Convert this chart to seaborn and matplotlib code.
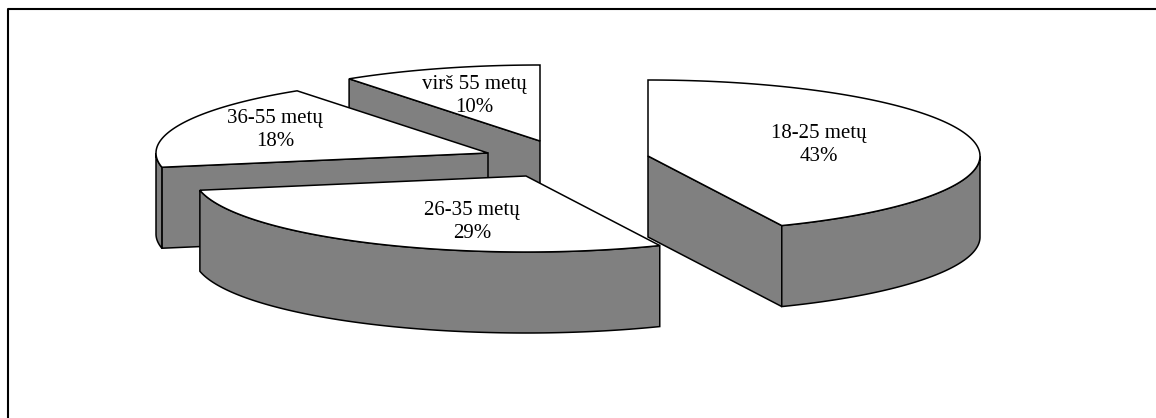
import numpy as np
import pandas as pd
import seaborn as sns
import matplotlib.pyplot as plt
from matplotlib.patches import Polygon

# duomenys
labels = ["18-25 metų", "26-35 metų", "36-55 metų", "virš 55 metų"]
shares = [43.4, 28.6, 18.25, 9.75]

# kiekvienos dalies centras (pikseliais)
center_x = [648, 526, 488, 540]
center_y = [156, 176, 153, 141]
label_x = [819, 472, 275, 474]
label_y = [145, 222, 130, 96]
draw_order = [3, 2, 0, 1]

RX, RY, DEPTH = 332, 76, 81

sns.set_theme(style="white")
plt.rcParams["font.family"] = ["Liberation Serif", "DejaVu Serif"]

df = pd.DataFrame({"label": labels, "share": shares, "cx": center_x, "cy": center_y,
                   "lx": label_x, "ly": label_y})
df["start"] = df["share"].shift(fill_value=0).cumsum() / df["share"].sum() * 2 * np.pi
df["end"] = df["share"].cumsum() / df["share"].sum() * 2 * np.pi

fig, ax = plt.subplots(figsize=(11.56, 4.18), dpi=100)
ax.set_position([0, 0, 1, 1])
ax.set_xlim(0, 1156)
ax.set_ylim(418, 0)
ax.axis("off")

# remelis, paveiksle matomas tik kaire ir virsus
ax.plot([8, 8, 1156], [418, 9, 9], color="black", lw=1.5)

grey = "#808080"
lw = 1.1
for i in draw_order:
    s = df.iloc[i]
    t = np.linspace(s["start"], s["end"], 200)
    x = s["cx"] + RX * np.sin(t)
    y = s["cy"] - RY * np.cos(t)

    # vidines sienos, tik tos kurios matomos
    if np.sin(s["start"]) < -1e-6:
        ax.add_patch(Polygon([(s["cx"], s["cy"]), (x[0], y[0]), (x[0], y[0] + DEPTH),
                              (s["cx"], s["cy"] + DEPTH)], fc=grey, ec="black", lw=lw))
    if np.sin(s["end"]) > 1e-6:
        ax.add_patch(Polygon([(s["cx"], s["cy"]), (x[-1], y[-1]), (x[-1], y[-1] + DEPTH),
                              (s["cx"], s["cy"] + DEPTH)], fc=grey, ec="black", lw=lw))
    # isorine siena
    vis = np.cos(t) <= 0
    if vis.sum() > 1:
        xv, yv = x[vis], y[vis]
        ax.add_patch(Polygon(np.r_[np.c_[xv, yv], np.c_[xv, yv + DEPTH][::-1]],
                             fc=grey, ec="black", lw=lw))
    # virsus
    ax.add_patch(Polygon(np.r_[[(s["cx"], s["cy"])], np.c_[x, y]], fc="white", ec="black", lw=lw))

for _, s in df.iterrows():
    ax.text(s["lx"], s["ly"], f'{s["label"]}\n{round(s["share"])}%', ha="center", va="center",
            fontsize=15, color="black", linespacing=1.3)

fig.savefig("out.png", dpi=100)
